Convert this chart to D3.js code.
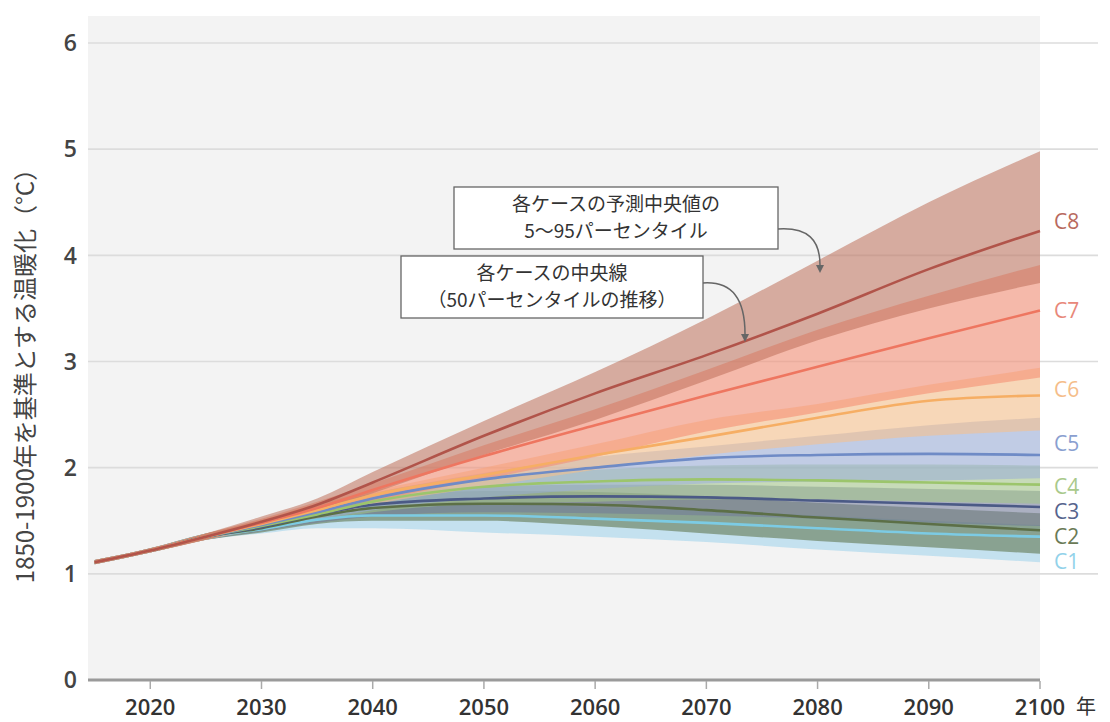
<!DOCTYPE html>
<html lang="ja">
<head>
<meta charset="utf-8">
<script src="https://cdn.jsdelivr.net/npm/d3@7"></script>
<style>
  html, body { margin: 0; padding: 0; background: #ffffff; }
  svg { display: block; }
  text { font-family: "Open Sans", "Noto Sans", sans-serif; }
  .jp { font-family: "Noto Sans CJK JP", "Noto Sans", sans-serif; }
</style>
</head>
<body>
<svg id="chart" width="1110" height="722"></svg>
<script>
// Years sampled for every scenario
const years = [2015, 2020, 2025, 2030, 2035, 2040, 2050, 2060, 2070, 2080, 2090, 2100];

// Warming (°C above 1850-1900): median and 5–95 percentile range per category
const c8Median = [1.11, 1.22, 1.35, 1.49, 1.65, 1.86, 2.30, 2.70, 3.06, 3.45, 3.87, 4.23];
const c8Low    = [1.09, 1.20, 1.32, 1.45, 1.59, 1.76, 2.12, 2.45, 2.82, 3.20, 3.50, 3.74];
const c8High   = [1.13, 1.24, 1.38, 1.54, 1.71, 1.96, 2.44, 2.90, 3.40, 3.95, 4.50, 4.98];

const c7Median = [1.11, 1.22, 1.35, 1.48, 1.62, 1.79, 2.11, 2.40, 2.68, 2.95, 3.22, 3.48];
const c7Low    = [1.09, 1.20, 1.32, 1.44, 1.55, 1.68, 1.89, 2.10, 2.34, 2.52, 2.70, 2.85];
const c7High   = [1.13, 1.24, 1.38, 1.52, 1.68, 1.85, 2.21, 2.55, 2.92, 3.30, 3.62, 3.91];

const c6Median = [1.11, 1.22, 1.35, 1.47, 1.60, 1.74, 1.93, 2.12, 2.29, 2.47, 2.63, 2.68];
const c6Low    = [1.09, 1.20, 1.32, 1.43, 1.53, 1.65, 1.82, 1.98, 2.12, 2.22, 2.30, 2.35];
const c6High   = [1.13, 1.24, 1.38, 1.51, 1.66, 1.78, 2.00, 2.22, 2.45, 2.60, 2.78, 2.94];

const c5Median = [1.11, 1.22, 1.35, 1.46, 1.58, 1.71, 1.89, 2.00, 2.09, 2.12, 2.13, 2.12];
const c5Low    = [1.09, 1.20, 1.32, 1.42, 1.51, 1.60, 1.72, 1.80, 1.85, 1.87, 1.88, 1.90];
const c5High   = [1.13, 1.24, 1.38, 1.50, 1.64, 1.76, 1.95, 2.10, 2.20, 2.30, 2.40, 2.47];

const c4Median = [1.11, 1.22, 1.35, 1.45, 1.56, 1.68, 1.82, 1.87, 1.89, 1.88, 1.86, 1.84];
const c4Low    = [1.09, 1.20, 1.32, 1.41, 1.50, 1.58, 1.66, 1.68, 1.70, 1.70, 1.68, 1.66];
const c4High   = [1.13, 1.24, 1.38, 1.49, 1.62, 1.76, 1.92, 1.98, 2.02, 2.03, 2.03, 2.02];

const c3Median = [1.11, 1.22, 1.35, 1.44, 1.56, 1.65, 1.71, 1.73, 1.72, 1.69, 1.66, 1.63];
const c3Low    = [1.09, 1.20, 1.32, 1.40, 1.48, 1.54, 1.58, 1.57, 1.55, 1.52, 1.48, 1.45];
const c3High   = [1.13, 1.24, 1.38, 1.48, 1.62, 1.74, 1.82, 1.84, 1.84, 1.82, 1.80, 1.78];

const c2Median = [1.11, 1.22, 1.35, 1.43, 1.54, 1.62, 1.66, 1.65, 1.60, 1.53, 1.47, 1.41];
const c2Low    = [1.09, 1.20, 1.32, 1.39, 1.47, 1.50, 1.50, 1.45, 1.38, 1.31, 1.25, 1.19];
const c2High   = [1.13, 1.24, 1.38, 1.47, 1.60, 1.72, 1.78, 1.77, 1.73, 1.67, 1.62, 1.57];

const c1Median = [1.11, 1.22, 1.35, 1.42, 1.51, 1.55, 1.55, 1.52, 1.48, 1.43, 1.38, 1.35];
const c1Low    = [1.09, 1.20, 1.32, 1.38, 1.43, 1.43, 1.39, 1.35, 1.30, 1.23, 1.17, 1.11];
const c1High   = [1.13, 1.24, 1.38, 1.46, 1.57, 1.64, 1.66, 1.63, 1.60, 1.55, 1.50, 1.46];

const categoryNames = ["C1", "C2", "C3", "C4", "C5", "C6", "C7", "C8"];
const yTicks = [0, 1, 2, 3, 4, 5, 6];
const xTicks = [2020, 2030, 2040, 2050, 2060, 2070, 2080, 2090, 2100];

const yTitle = "1850-1900年を基準とする温暖化（°C）";
const yearUnit = "年";
const noteBand = ["各ケースの予測中央値の", "5〜95パーセンタイル"];
const noteLine = ["各ケースの中央線", "（50パーセンタイルの推移）"];

// Per-category styling
const styles = {
  C1: { band: "#9dd1eb", line: "#7ccbe4", label: "#92d2ea" },
  C2: { band: "#5a7044", line: "#5c6f47", label: "#6a7a56" },
  C3: { band: "#707899", line: "#4b5a86", label: "#56648d" },
  C4: { band: "#a3c787", line: "#9cc56c", label: "#a9c98b" },
  C5: { band: "#97acd8", line: "#6f8bc6", label: "#8a9fd0" },
  C6: { band: "#f9bf86", line: "#f6ae64", label: "#f5bd8a" },
  C7: { band: "#f5896d", line: "#ee7660", label: "#e8887a" },
  C8: { band: "#bd7059", line: "#b1544a", label: "#b86a5e" }
};

const seriesData = {
  C1: [c1Median, c1Low, c1High],
  C2: [c2Median, c2Low, c2High],
  C3: [c3Median, c3Low, c3High],
  C4: [c4Median, c4Low, c4High],
  C5: [c5Median, c5Low, c5High],
  C6: [c6Median, c6Low, c6High],
  C7: [c7Median, c7Low, c7High],
  C8: [c8Median, c8Low, c8High]
};

const svg = d3.select("#chart");

const plot = { left: 88, right: 1040, top: 16, bottom: 680 };
const x = d3.scaleLinear().domain([2014.4, 2100]).range([plot.left, plot.right]);
const y = d3.scaleLinear().domain([0, 6]).range([680, 43]);

// Plot background
svg.append("rect")
  .attr("x", plot.left).attr("y", plot.top)
  .attr("width", plot.right - plot.left).attr("height", plot.bottom - plot.top)
  .attr("fill", "#f3f3f3");

// Horizontal gridlines (extend into the label margin)
svg.append("g").selectAll("line")
  .data(yTicks.filter(d => d > 0))
  .join("line")
  .attr("x1", plot.left).attr("x2", 1098)
  .attr("y1", d => y(d)).attr("y2", d => y(d))
  .attr("stroke", "#dcdcdc").attr("stroke-width", 1.6);

// Y tick labels
svg.append("g").selectAll("text")
  .data(yTicks)
  .join("text")
  .attr("x", 77).attr("y", d => y(d))
  .attr("dy", "0.36em")
  .attr("text-anchor", "end")
  .attr("font-size", 23)
  .attr("font-weight", 600)
  .attr("fill", "#444")
  .text(d => d);

// Bands and median lines
const area = d3.area()
  .x((d, i) => x(years[i]))
  .y0(d => y(d[0]))
  .y1(d => y(d[1]))
  .curve(d3.curveMonotoneX);

const line = d3.line()
  .x((d, i) => x(years[i]))
  .y(d => y(d))
  .curve(d3.curveMonotoneX);

const bandLayer = svg.append("g");
categoryNames.forEach(name => {
  const [, lo, hi] = seriesData[name];
  const pts = years.map((yr, i) => [lo[i], hi[i]]);
  bandLayer.append("path")
    .datum(pts)
    .attr("d", area)
    .attr("fill", styles[name].band)
    .attr("fill-opacity", 0.55);
});

const lineLayer = svg.append("g");
categoryNames.forEach(name => {
  lineLayer.append("path")
    .datum(seriesData[name][0])
    .attr("d", line)
    .attr("fill", "none")
    .attr("stroke", styles[name].line)
    .attr("stroke-width", 2.6)
    .attr("stroke-linejoin", "round");
});

// Category labels at the right margin
const labelY = { C8: 222, C7: 311, C6: 390, C5: 444, C4: 487, C3: 512, C2: 537, C1: 562 };
svg.append("g").selectAll("text")
  .data(categoryNames)
  .join("text")
  .attr("x", 1054)
  .attr("y", d => labelY[d])
  .attr("dy", "0.34em")
  .attr("font-size", 21)
  .attr("font-family", "'Open Sans', sans-serif")
  .attr("fill", d => styles[d].label)
  .text(d => d);

// X axis baseline and ticks
svg.append("line")
  .attr("x1", plot.left).attr("x2", plot.right)
  .attr("y1", 680).attr("y2", 680)
  .attr("stroke", "#9a9a9a").attr("stroke-width", 3);

svg.append("g").selectAll("line")
  .data(xTicks)
  .join("line")
  .attr("x1", d => x(d)).attr("x2", d => x(d))
  .attr("y1", 681).attr("y2", 689)
  .attr("stroke", "#aaaaaa").attr("stroke-width", 1.5);

svg.append("g").selectAll("text")
  .data(xTicks)
  .join("text")
  .attr("x", d => x(d)).attr("y", 715)
  .attr("text-anchor", "middle")
  .attr("font-size", 22)
  .attr("font-weight", 600)
  .attr("fill", "#333")
  .text(d => d);

svg.append("text")
  .attr("class", "jp")
  .attr("x", 1076).attr("y", 714)
  .attr("font-size", 20)
  .attr("fill", "#333")
  .text(yearUnit);

// Y axis title
svg.append("text")
  .attr("class", "jp")
  .attr("transform", "translate(34,370) rotate(-90)")
  .attr("text-anchor", "middle")
  .attr("font-size", 24)
  .attr("fill", "#444")
  .text(yTitle);

// Annotation callouts
function callout(box, lines, arrowPath) {
  const g = svg.append("g");
  g.append("rect")
    .attr("x", box.x).attr("y", box.y)
    .attr("width", box.w).attr("height", box.h)
    .attr("fill", "#ffffff")
    .attr("stroke", "#666").attr("stroke-width", 1.3);
  lines.forEach((t, i) => {
    g.append("text")
      .attr("class", "jp")
      .attr("x", box.x + box.w / 2)
      .attr("y", box.y + 24 + i * 27)
      .attr("text-anchor", "middle")
      .attr("font-size", 19)
      .attr("fill", "#333")
      .text(t);
  });
  g.append("path")
    .attr("d", arrowPath.d)
    .attr("fill", "none")
    .attr("stroke", "#666").attr("stroke-width", 1.5);
  const [tx, ty] = arrowPath.tip;
  g.append("path")
    .attr("d", `M${tx - 4},${ty - 8} L${tx + 4},${ty - 8} L${tx},${ty} Z`)
    .attr("fill", "#666");
}

callout({ x: 454, y: 187, w: 324, h: 62 }, noteBand,
  { d: "M778,229 C808,227 820,240 820,265", tip: [820, 273] });
callout({ x: 401, y: 256, w: 302, h: 62 }, noteLine,
  { d: "M703,283 C733,281 745,300 745,334", tip: [745, 342] });
</script>
</body>
</html>
